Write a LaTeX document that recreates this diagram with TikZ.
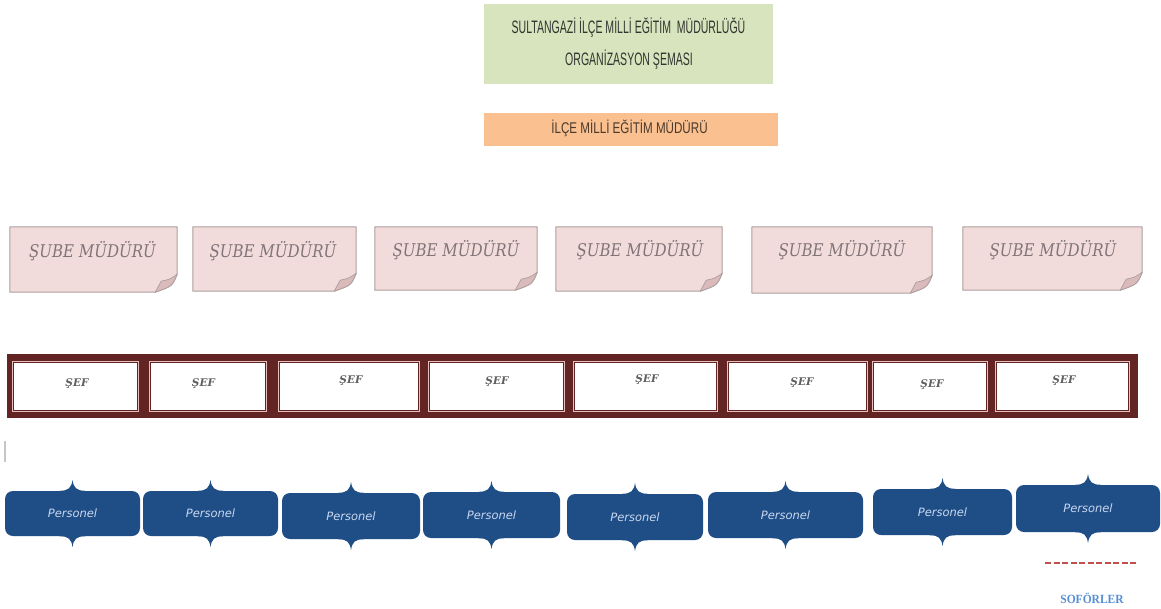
\documentclass[tikz,border=0pt]{standalone}
\usepackage{fontspec}
\usepackage{graphicx}
\usetikzlibrary{calc}
\setmainfont{Liberation Sans}
\newfontfamily\slabfont{DejaVu Serif}
\newfontfamily\persfont{DejaVu Sans}
\newfontfamily\soffont{Liberation Serif}
\definecolor{titlegreen}{RGB}{215,228,189}
\definecolor{titletext}{RGB}{50,52,48}
\definecolor{dirorange}{RGB}{250,192,144}
\definecolor{dirtext}{RGB}{75,58,44}
\definecolor{smpink}{RGB}{242,220,219}
\definecolor{smedge}{RGB}{172,158,158}
\definecolor{smfold}{RGB}{218,186,186}
\definecolor{smtextc}{RGB}{128,116,120}
\definecolor{maroonc}{RGB}{99,37,35}
\definecolor{sefpink}{RGB}{232,190,188}
\definecolor{sefgray}{RGB}{95,95,95}
\definecolor{persblue}{RGB}{31,77,134}
\definecolor{perstext}{RGB}{200,216,240}
\definecolor{sofred}{RGB}{192,80,77}
\definecolor{sofblue}{RGB}{85,142,213}
\tikzset{
  titlebox/.style={fill=titlegreen, draw=none, inner sep=0pt},
  dirbox/.style={fill=dirorange, draw=none, inner sep=0pt},
  titletxt/.style={text=titletext, font=\fontsize{18}{20}\selectfont, inner sep=0pt, anchor=base},
  dirtxt/.style={text=dirtext, font=\fontsize{15.5}{17}\selectfont, inner sep=0pt, anchor=base},
  smnode/.style={inner sep=0pt, draw=none},
  smbord/.style={draw=smedge, fill=smpink, line width=1pt, line join=round},
  smfoldst/.style={draw=smedge, fill=smfold, line width=0.7pt, line join=round},
  smtxt/.style={text=smtextc, font=\slabfont\itshape\fontsize{17.5}{19}\selectfont, inner sep=0pt, anchor=base},
  sefframe/.style={fill=maroonc, draw=none, inner sep=0pt},
  sefcell/.style={fill=white, draw=maroonc, line width=0.9pt, inner sep=0pt,
     preaction={draw=sefpink, line width=3.4pt}},
  seftxt/.style={text=sefgray, font=\slabfont\bfseries\itshape\fontsize{10.5}{12}\selectfont, inner sep=0pt, anchor=base},
  persbox/.style={fill=persblue, draw=none, rounded corners=8pt, inner sep=0pt,
     text=perstext, font=\persfont\itshape\fontsize{11.5}{13}\selectfont},
  sofline/.style={draw=sofred, line width=2pt, dash pattern=on 6pt off 2.5pt},
  softxt/.style={text=sofblue, font=\soffont\bfseries\fontsize{12.5}{14}\selectfont, inner sep=0pt, anchor=base},
}
\newcommand\subebox[7]{%
  \node[smnode, minimum width=#4pt, minimum height=#5pt] (#1) at (#2,#3) {};
  \draw[smbord] (#1.north west) -- (#1.north east) -- ($(#1.south east)+(0,-18)$)
     .. controls ($(#1.south east)+(-5,-6)$) .. ($(#1.south east)+(-22,0)$) -- (#1.south west) -- cycle;
  \draw[smfoldst] ($(#1.south east)+(0,-18)$) .. controls ($(#1.south east)+(-7,-13)$) .. ($(#1.south east)+(-16,-11)$)
     -- ($(#1.south east)+(-22,0)$) .. controls ($(#1.south east)+(-5,-6)$) .. cycle;
  \node[smtxt] (#1t) at (#6,#7) {\scalebox{0.86}[1]{ŞUBE MÜDÜRÜ}};
}
\newcommand\sefc[5]{%
  \node[sefcell, minimum width=#3pt, minimum height=48pt] (#1) at (#2,386.5) {};
  \node[seftxt] (#1t) at (#4,#5) {ŞEF};
}
\newcommand\persb[6]{%
  \node[persbox, minimum width=#4pt, minimum height=#5pt] (#1) at (#2,#3) {#6};
  \fill[persblue] ($(#1.north)+(-14,2)$) -- ($(#1.north)+(-13,0)$)
     .. controls ($(#1.north)+(-4,0)$) and ($(#1.north)+(-1,-3)$) .. ($(#1.north)+(0,-11)$)
     .. controls ($(#1.north)+(1,-3)$) and ($(#1.north)+(4,0)$) .. ($(#1.north)+(13,0)$) -- ($(#1.north)+(14,2)$) -- cycle;
  \fill[persblue] ($(#1.south)+(-14,-2)$) -- ($(#1.south)+(-13,0)$)
     .. controls ($(#1.south)+(-4,0)$) and ($(#1.south)+(-1,3)$) .. ($(#1.south)+(0,11)$)
     .. controls ($(#1.south)+(1,3)$) and ($(#1.south)+(4,0)$) .. ($(#1.south)+(13,0)$) -- ($(#1.south)+(14,-2)$) -- cycle;
}
\begin{document}
\begin{tikzpicture}[x=1pt,y=-1pt]
\useasboundingbox[fill=white] (0,0) rectangle (1161,608);

% title
\node[titlebox, minimum width=289pt, minimum height=80pt] (title) at (628.5,44) {};
\node[titletxt] (title1) at (628.5,33) {\scalebox{0.585}[1]{SULTANGAZİ İLÇE MİLLİ EĞİTİM\ \ MÜDÜRLÜĞÜ}};
\node[titletxt] (title2) at (629,65) {\scalebox{0.585}[1]{ORGANİZASYON ŞEMASI}};

% director
\node[dirbox, minimum width=294pt, minimum height=33pt] (dir) at (631,129.5) {};
\node[dirtxt] (dirt) at (629.5,133) {\scalebox{0.75}[1]{İLÇE MİLLİ EĞİTİM MÜDÜRÜ}};

% sube mudurleri
\subebox{sm1}{93.5}{259.5}{167}{65}{92.5}{257}
\subebox{sm2}{274.5}{259}{163}{64}{273}{257}
\subebox{sm3}{456}{258.5}{162}{63}{456}{256}
\subebox{sm4}{639}{259}{166}{64}{640}{256}
\subebox{sm5}{842}{260}{180}{66}{842}{256}
\subebox{sm6}{1052.5}{258.5}{179}{63}{1053}{256}

% sef row
\node[sefframe, minimum width=1131pt, minimum height=64pt] (frame) at (572.5,386) {};
\sefc{sef1}{75.5}{124}{77}{386}
\sefc{sef2}{208}{115}{203.5}{386}
\sefc{sef3}{349}{139}{351}{383}
\sefc{sef4}{496.5}{134}{497}{384}
\sefc{sef5}{645.5}{142}{647}{382}
\sefc{sef6}{797.5}{138}{802}{385}
\sefc{sef7}{930}{113}{932}{387}
\sefc{sef8}{1062.5}{132}{1064}{383}

% stray mark
\draw[gray!45, line width=1.5pt] (5,441) -- (5,462);

% personel row
\persb{p1}{72.5}{513.5}{135}{45}{Personel}
\persb{p2}{210.5}{513.5}{135}{45}{Personel}
\persb{p3}{351}{516}{138}{46}{Personel}
\persb{p4}{491.5}{515}{137}{46}{Personel}
\persb{p5}{635}{517}{136}{46}{Personel}
\persb{p6}{785.5}{515}{155}{46}{Personel}
\persb{p7}{942.5}{512}{139}{46}{Personel}
\persb{p8}{1088}{508.5}{144}{47}{Personel}

% soforler
\coordinate (dl1) at (1045,563);
\coordinate (dl2) at (1137,563);
\draw[sofline] (dl1) -- (dl2);
\node[softxt] (sof) at (1092,603) {\scalebox{0.92}[1]{SOFÖRLER}};
\end{tikzpicture}
\end{document}
